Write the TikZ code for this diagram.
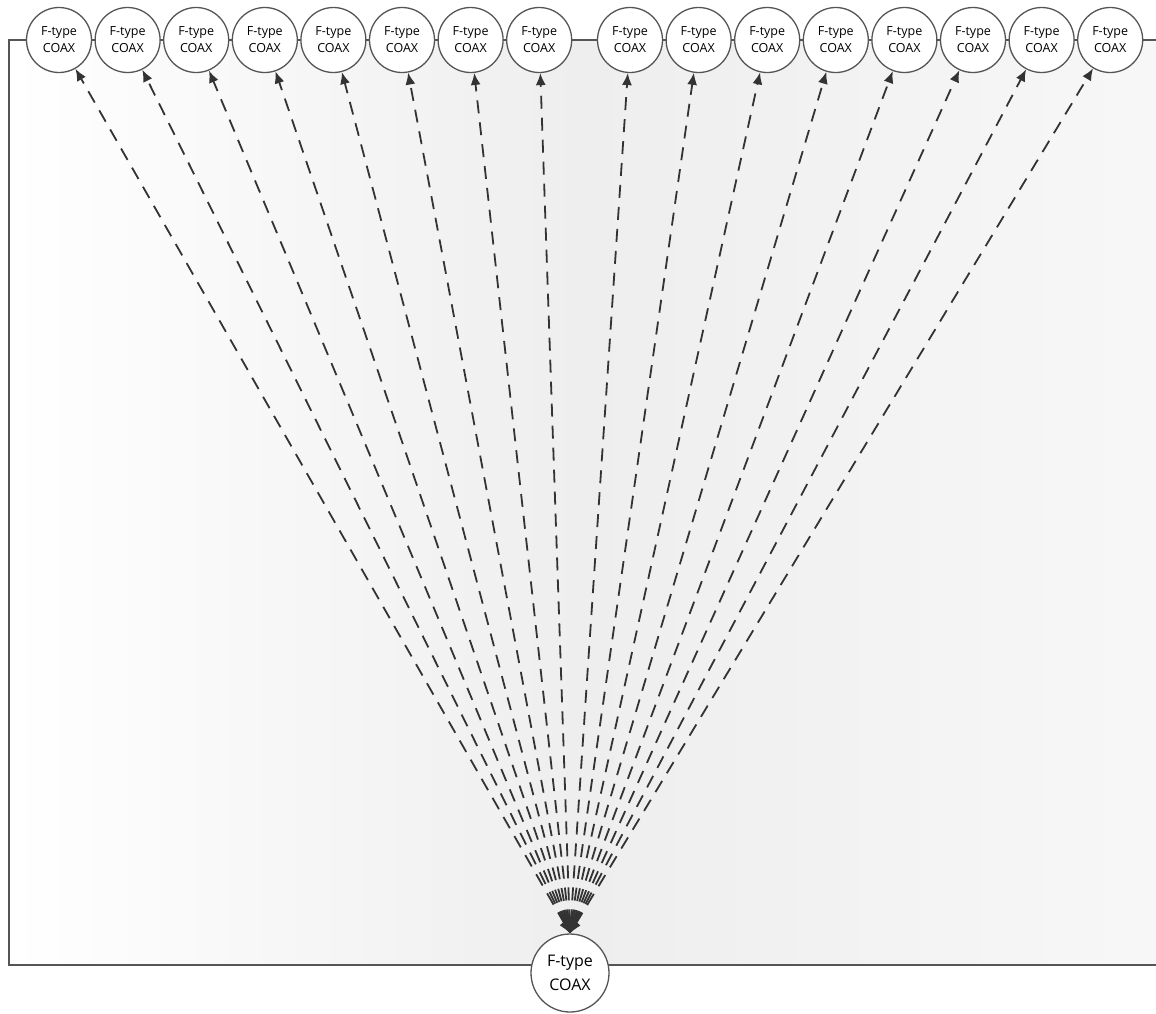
\documentclass[tikz,border=0pt]{standalone}
\usepackage{fontspec}
\setmainfont{Open Sans}
\usetikzlibrary{arrows.meta}
\definecolor{edgegray}{RGB}{85,85,85}
\definecolor{bgmid}{RGB}{238,238,238}
\tikzset{
  coax/.style={circle,draw=edgegray,line width=1.3pt,fill=white,minimum size=65pt,inner sep=0pt,align=center,font=\fontsize{12.5pt}{17pt}\selectfont},
  coaxbig/.style={coax,minimum size=78pt,font=\fontsize{16pt}{24pt}\selectfont},
  frame/.style={draw=edgegray,line width=1.5pt},
  link/.style={draw=black!80,line width=1.8pt,dash pattern=on 13pt off 9pt,{Latex[length=12pt,width=10pt]}-{Latex[length=12pt,width=10pt]}}
}
\begin{document}
\begin{tikzpicture}[x=1pt,y=-1pt]
\useasboundingbox (0,0) rectangle (1156,1013);
\coordinate (tl) at (9,40);
\coordinate (bl) at (9,965);
\coordinate (tr) at (1156,40);
\coordinate (br) at (1156,965);
\shade[left color=white,right color=white!97!black,middle color=bgmid] (tl) rectangle (br);
\draw[frame] (tr) -- (tl) -- (bl) -- (br);
\foreach \i in {0,...,7} {
  \node[coax] (t\i) at ({59+68.6*\i},40) {F-type\\COAX};
}
\foreach \i in {8,...,15} {
  \node[coax] (t\i) at ({630+68.6*(\i-8)},40) {F-type\\COAX};
}
\node[coaxbig] (bot) at (570,973) {F-type\\COAX};
\foreach \i in {0,...,15} {
  \draw[link] (bot.north) -- (t\i);
}
\end{tikzpicture}
\end{document}
